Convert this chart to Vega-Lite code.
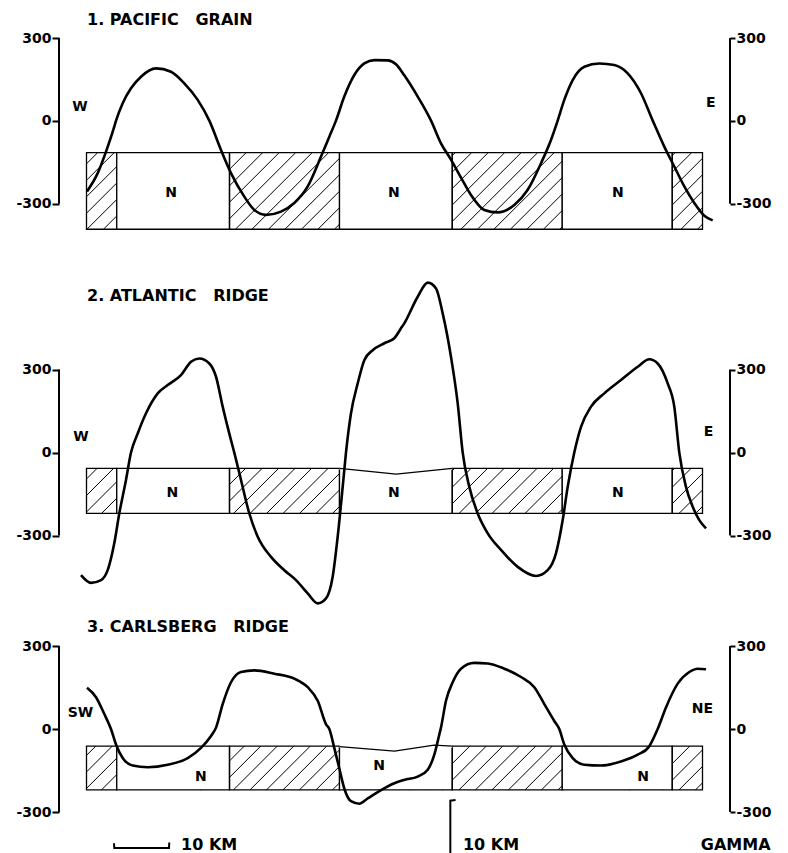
{
 "$schema": "https://vega.github.io/schema/vega-lite/v6.json",
 "background": "white",
 "padding": {"top": 12, "left": 15, "right": 5, "bottom": 0},
 "spacing": 44,
 "bounds": "flush",
 "config": {"view": {"stroke": null}},
 "datasets": {
  "spine": [{"x": 0, "y": -300, "y2": 300}, {"x": 122, "y": -300, "y2": 300}],
  "blocks": [
   {"p":1,"x":5,"x2":10.5,"y":-115,"y2":-392,"kind":"H","notch":false},
   {"p":1,"x":10.5,"x2":31,"y":-115,"y2":-392,"kind":"N","notch":false},
   {"p":1,"x":31,"x2":51,"y":-115,"y2":-392,"kind":"H","notch":false},
   {"p":1,"x":51,"x2":71.5,"y":-115,"y2":-392,"kind":"N","notch":false},
   {"p":1,"x":71.5,"x2":91.5,"y":-115,"y2":-392,"kind":"H","notch":false},
   {"p":1,"x":91.5,"x2":111.5,"y":-115,"y2":-392,"kind":"N","notch":false},
   {"p":1,"x":111.5,"x2":117,"y":-115,"y2":-392,"kind":"H","notch":false},
   {"p":2,"x":5,"x2":10.5,"y":-57,"y2":-220,"kind":"H","notch":false},
   {"p":2,"x":10.5,"x2":31,"y":-57,"y2":-220,"kind":"N","notch":false},
   {"p":2,"x":31,"x2":51,"y":-57,"y2":-220,"kind":"H","notch":false},
   {"p":2,"x":51,"x2":71.5,"y":-57,"y2":-220,"kind":"N","notch":true},
   {"p":2,"x":71.5,"x2":91.5,"y":-57,"y2":-220,"kind":"H","notch":false},
   {"p":2,"x":91.5,"x2":111.5,"y":-57,"y2":-220,"kind":"N","notch":false},
   {"p":2,"x":111.5,"x2":117,"y":-57,"y2":-220,"kind":"H","notch":false},
   {"p":3,"x":5,"x2":10.5,"y":-62,"y2":-220,"kind":"H","notch":false},
   {"p":3,"x":10.5,"x2":31,"y":-62,"y2":-220,"kind":"N","notch":false},
   {"p":3,"x":31,"x2":51,"y":-62,"y2":-220,"kind":"H","notch":false},
   {"p":3,"x":51,"x2":71.5,"y":-62,"y2":-220,"kind":"N","notch":true},
   {"p":3,"x":71.5,"x2":91.5,"y":-62,"y2":-220,"kind":"H","notch":false},
   {"p":3,"x":91.5,"x2":111.5,"y":-62,"y2":-220,"kind":"N","notch":false},
   {"p":3,"x":111.5,"x2":117,"y":-62,"y2":-220,"kind":"H","notch":false}
  ],
  "notch": [
   {"p":2,"x":51,"y":-57},{"p":2,"x":61.3,"y":-78},{"p":2,"x":71.5,"y":-57},
   {"p":3,"x":51,"y":-64},{"p":3,"x":61,"y":-80},{"p":3,"x":68.2,"y":-58},{"p":3,"x":71.5,"y":-62}
  ],
  "hatch": [
   {"p":1,"x":5,"y":-155.1,"x2":7.02,"y2":-115},
   {"p":1,"x":5,"y":-214.7,"x2":10.02,"y2":-115},
   {"p":1,"x":5,"y":-274.3,"x2":13.02,"y2":-115},
   {"p":1,"x":5,"y":-334,"x2":16.02,"y2":-115},
   {"p":1,"x":5.08,"y":-392,"x2":19.02,"y2":-115},
   {"p":1,"x":8.08,"y":-392,"x2":22.02,"y2":-115},
   {"p":1,"x":17.08,"y":-392,"x2":31.02,"y2":-115},
   {"p":1,"x":20.08,"y":-392,"x2":34.02,"y2":-115},
   {"p":1,"x":23.08,"y":-392,"x2":37.02,"y2":-115},
   {"p":1,"x":26.08,"y":-392,"x2":40.02,"y2":-115},
   {"p":1,"x":29.08,"y":-392,"x2":43.02,"y2":-115},
   {"p":1,"x":32.08,"y":-392,"x2":46.02,"y2":-115},
   {"p":1,"x":35.08,"y":-392,"x2":49.02,"y2":-115},
   {"p":1,"x":38.08,"y":-392,"x2":52.02,"y2":-115},
   {"p":1,"x":41.08,"y":-392,"x2":55.02,"y2":-115},
   {"p":1,"x":44.08,"y":-392,"x2":58.02,"y2":-115},
   {"p":1,"x":47.08,"y":-392,"x2":61.02,"y2":-115},
   {"p":1,"x":50.08,"y":-392,"x2":64.02,"y2":-115},
   {"p":1,"x":58.08,"y":-392,"x2":72.02,"y2":-115},
   {"p":1,"x":61.08,"y":-392,"x2":75.02,"y2":-115},
   {"p":1,"x":64.08,"y":-392,"x2":78.02,"y2":-115},
   {"p":1,"x":67.08,"y":-392,"x2":81.02,"y2":-115},
   {"p":1,"x":70.08,"y":-392,"x2":84.02,"y2":-115},
   {"p":1,"x":73.08,"y":-392,"x2":87.02,"y2":-115},
   {"p":1,"x":76.08,"y":-392,"x2":90.02,"y2":-115},
   {"p":1,"x":79.08,"y":-392,"x2":93.02,"y2":-115},
   {"p":1,"x":82.08,"y":-392,"x2":96.02,"y2":-115},
   {"p":1,"x":85.08,"y":-392,"x2":99.02,"y2":-115},
   {"p":1,"x":88.08,"y":-392,"x2":102.02,"y2":-115},
   {"p":1,"x":91.08,"y":-392,"x2":105.02,"y2":-115},
   {"p":1,"x":98.08,"y":-392,"x2":112.02,"y2":-115},
   {"p":1,"x":101.08,"y":-392,"x2":115.02,"y2":-115},
   {"p":1,"x":104.08,"y":-392,"x2":117,"y2":-135.2},
   {"p":1,"x":107.08,"y":-392,"x2":117,"y2":-194.8},
   {"p":1,"x":110.08,"y":-392,"x2":117,"y2":-254.5},
   {"p":1,"x":113.08,"y":-392,"x2":117,"y2":-314.1},
   {"p":1,"x":116.08,"y":-392,"x2":117,"y2":-373.7},
   {"p":2,"x":5,"y":-95.4,"x2":6.93,"y2":-57},
   {"p":2,"x":5,"y":-155.1,"x2":9.93,"y2":-57},
   {"p":2,"x":5,"y":-214.7,"x2":12.93,"y2":-57},
   {"p":2,"x":7.73,"y":-220,"x2":15.93,"y2":-57},
   {"p":2,"x":25.73,"y":-220,"x2":33.93,"y2":-57},
   {"p":2,"x":28.73,"y":-220,"x2":36.93,"y2":-57},
   {"p":2,"x":31.73,"y":-220,"x2":39.93,"y2":-57},
   {"p":2,"x":34.73,"y":-220,"x2":42.93,"y2":-57},
   {"p":2,"x":37.73,"y":-220,"x2":45.93,"y2":-57},
   {"p":2,"x":40.73,"y":-220,"x2":48.93,"y2":-57},
   {"p":2,"x":43.73,"y":-220,"x2":51.93,"y2":-57},
   {"p":2,"x":46.73,"y":-220,"x2":54.93,"y2":-57},
   {"p":2,"x":49.73,"y":-220,"x2":57.93,"y2":-57},
   {"p":2,"x":63.73,"y":-220,"x2":71.93,"y2":-57},
   {"p":2,"x":66.73,"y":-220,"x2":74.93,"y2":-57},
   {"p":2,"x":69.73,"y":-220,"x2":77.93,"y2":-57},
   {"p":2,"x":72.73,"y":-220,"x2":80.93,"y2":-57},
   {"p":2,"x":75.73,"y":-220,"x2":83.93,"y2":-57},
   {"p":2,"x":78.73,"y":-220,"x2":86.93,"y2":-57},
   {"p":2,"x":81.73,"y":-220,"x2":89.93,"y2":-57},
   {"p":2,"x":84.73,"y":-220,"x2":92.93,"y2":-57},
   {"p":2,"x":87.73,"y":-220,"x2":95.93,"y2":-57},
   {"p":2,"x":90.73,"y":-220,"x2":98.93,"y2":-57},
   {"p":2,"x":103.73,"y":-220,"x2":111.93,"y2":-57},
   {"p":2,"x":106.73,"y":-220,"x2":114.93,"y2":-57},
   {"p":2,"x":109.73,"y":-220,"x2":117,"y2":-75.5},
   {"p":2,"x":112.73,"y":-220,"x2":117,"y2":-135.2},
   {"p":2,"x":115.73,"y":-220,"x2":117,"y2":-194.8},
   {"p":3,"x":5,"y":-95.4,"x2":6.68,"y2":-62},
   {"p":3,"x":5,"y":-155.1,"x2":9.68,"y2":-62},
   {"p":3,"x":5,"y":-214.7,"x2":12.68,"y2":-62},
   {"p":3,"x":7.73,"y":-220,"x2":15.68,"y2":-62},
   {"p":3,"x":25.73,"y":-220,"x2":33.68,"y2":-62},
   {"p":3,"x":28.73,"y":-220,"x2":36.68,"y2":-62},
   {"p":3,"x":31.73,"y":-220,"x2":39.68,"y2":-62},
   {"p":3,"x":34.73,"y":-220,"x2":42.68,"y2":-62},
   {"p":3,"x":37.73,"y":-220,"x2":45.68,"y2":-62},
   {"p":3,"x":40.73,"y":-220,"x2":48.68,"y2":-62},
   {"p":3,"x":43.73,"y":-220,"x2":51.68,"y2":-62},
   {"p":3,"x":46.73,"y":-220,"x2":54.68,"y2":-62},
   {"p":3,"x":49.73,"y":-220,"x2":57.68,"y2":-62},
   {"p":3,"x":63.73,"y":-220,"x2":71.68,"y2":-62},
   {"p":3,"x":66.73,"y":-220,"x2":74.68,"y2":-62},
   {"p":3,"x":69.73,"y":-220,"x2":77.68,"y2":-62},
   {"p":3,"x":72.73,"y":-220,"x2":80.68,"y2":-62},
   {"p":3,"x":75.73,"y":-220,"x2":83.68,"y2":-62},
   {"p":3,"x":78.73,"y":-220,"x2":86.68,"y2":-62},
   {"p":3,"x":81.73,"y":-220,"x2":89.68,"y2":-62},
   {"p":3,"x":84.73,"y":-220,"x2":92.68,"y2":-62},
   {"p":3,"x":87.73,"y":-220,"x2":95.68,"y2":-62},
   {"p":3,"x":90.73,"y":-220,"x2":98.68,"y2":-62},
   {"p":3,"x":103.73,"y":-220,"x2":111.68,"y2":-62},
   {"p":3,"x":106.73,"y":-220,"x2":114.68,"y2":-62},
   {"p":3,"x":109.73,"y":-220,"x2":117,"y2":-75.5},
   {"p":3,"x":112.73,"y":-220,"x2":117,"y2":-135.2},
   {"p":3,"x":115.73,"y":-220,"x2":117,"y2":-194.8}
  ],
  "curve": [
   {"p":1,"x":5.09,"y":-255},{"p":1,"x":7.04,"y":-189},{"p":1,"x":8.55,"y":-111},{"p":1,"x":10.05,"y":-21},{"p":1,"x":10.36,"y":0},{"p":1,"x":11.58,"y":64},{"p":1,"x":13.09,"y":118},{"p":1,"x":14.91,"y":160},{"p":1,"x":17.64,"y":190},{"p":1,"x":20.36,"y":178},{"p":1,"x":22.78,"y":136},{"p":1,"x":25.22,"y":76},{"p":1,"x":27.33,"y":1},{"p":1,"x":29.45,"y":-105},{"p":1,"x":31.27,"y":-189},{"p":1,"x":33.69,"y":-274},{"p":1,"x":35.51,"y":-322},{"p":1,"x":37.64,"y":-340},{"p":1,"x":40.36,"y":-328},{"p":1,"x":42.78,"y":-297},{"p":1,"x":45.22,"y":-237},{"p":1,"x":47.64,"y":-129},{"p":1,"x":49.15,"y":-57},{"p":1,"x":50.36,"y":1},{"p":1,"x":51.87,"y":88},{"p":1,"x":53.69,"y":166},{"p":1,"x":55.51,"y":208},{"p":1,"x":57.33,"y":220},{"p":1,"x":59.76,"y":219},{"p":1,"x":61.27,"y":205},{"p":1,"x":62.78,"y":165},{"p":1,"x":65.22,"y":88},{"p":1,"x":67.64,"y":1},{"p":1,"x":69.45,"y":-81},{"p":1,"x":71.27,"y":-140},{"p":1,"x":73.09,"y":-205},{"p":1,"x":74.91,"y":-268},{"p":1,"x":77.33,"y":-322},{"p":1,"x":79.76,"y":-331},{"p":1,"x":82.78,"y":-304},{"p":1,"x":85.22,"y":-249},{"p":1,"x":87.64,"y":-153},{"p":1,"x":89.45,"y":-69},{"p":1,"x":90.67,"y":1},{"p":1,"x":91.87,"y":76},{"p":1,"x":93.4,"y":148},{"p":1,"x":95.51,"y":196},{"p":1,"x":98.24,"y":208},{"p":1,"x":100.96,"y":202},{"p":1,"x":103.4,"y":172},{"p":1,"x":105.82,"y":100},{"p":1,"x":107.95,"y":1},{"p":1,"x":110.05,"y":-93},{"p":1,"x":111.87,"y":-165},{"p":1,"x":113.69,"y":-237},{"p":1,"x":115.51,"y":-297},{"p":1,"x":117.33,"y":-343},{"p":1,"x":118.85,"y":-360},
   {"p":2,"x":4.0,"y":-443},{"p":2,"x":5.82,"y":-471},{"p":2,"x":7.64,"y":-461},{"p":2,"x":8.85,"y":-425},{"p":2,"x":10.05,"y":-328},{"p":2,"x":10.96,"y":-220},{"p":2,"x":12.18,"y":-99},{"p":2,"x":13.09,"y":0},{"p":2,"x":14.31,"y":69},{"p":2,"x":15.82,"y":142},{"p":2,"x":17.95,"y":214},{"p":2,"x":19.76,"y":244},{"p":2,"x":22.18,"y":280},{"p":2,"x":24.0,"y":328},{"p":2,"x":25.51,"y":340},{"p":2,"x":27.33,"y":322},{"p":2,"x":28.55,"y":274},{"p":2,"x":29.76,"y":166},{"p":2,"x":31.27,"y":45},{"p":2,"x":31.87,"y":0},{"p":2,"x":33.09,"y":-99},{"p":2,"x":34.6,"y":-220},{"p":2,"x":36.13,"y":-304},{"p":2,"x":38.55,"y":-377},{"p":2,"x":40.96,"y":-425},{"p":2,"x":43.09,"y":-461},{"p":2,"x":45.22,"y":-509},{"p":2,"x":47.04,"y":-545},{"p":2,"x":48.55,"y":-527},{"p":2,"x":49.76,"y":-449},{"p":2,"x":50.67,"y":-304},{"p":2,"x":51.58,"y":-124},{"p":2,"x":52.18,"y":0},{"p":2,"x":53.09,"y":142},{"p":2,"x":54.31,"y":250},{"p":2,"x":55.51,"y":334},{"p":2,"x":57.04,"y":370},{"p":2,"x":59.15,"y":395},{"p":2,"x":60.96,"y":413},{"p":2,"x":62.18,"y":449},{"p":2,"x":62.78,"y":467},{"p":2,"x":65.22,"y":563},{"p":2,"x":67.04,"y":614},{"p":2,"x":68.55,"y":593},{"p":2,"x":69.76,"y":503},{"p":2,"x":71.27,"y":346},{"p":2,"x":72.49,"y":178},{"p":2,"x":73.4,"y":0},{"p":2,"x":74.6,"y":-124},{"p":2,"x":76.13,"y":-220},{"p":2,"x":77.95,"y":-292},{"p":2,"x":80.36,"y":-352},{"p":2,"x":83.4,"y":-413},{"p":2,"x":86.73,"y":-446},{"p":2,"x":88.85,"y":-425},{"p":2,"x":90.36,"y":-364},{"p":2,"x":91.58,"y":-244},{"p":2,"x":92.49,"y":-124},{"p":2,"x":93.69,"y":0},{"p":2,"x":94.91,"y":93},{"p":2,"x":96.73,"y":166},{"p":2,"x":99.15,"y":214},{"p":2,"x":102.18,"y":262},{"p":2,"x":105.22,"y":310},{"p":2,"x":107.33,"y":337},{"p":2,"x":108.85,"y":322},{"p":2,"x":110.67,"y":250},{"p":2,"x":111.87,"y":166},{"p":2,"x":112.78,"y":0},{"p":2,"x":114.0,"y":-124},{"p":2,"x":115.22,"y":-196},{"p":2,"x":116.42,"y":-244},{"p":2,"x":117.64,"y":-274},
   {"p":3,"x":5.09,"y":149},{"p":3,"x":6.73,"y":115},{"p":3,"x":8.24,"y":54},{"p":3,"x":9.45,"y":0},{"p":3,"x":10.36,"y":-56},{"p":3,"x":11.58,"y":-105},{"p":3,"x":13.4,"y":-132},{"p":3,"x":16.13,"y":-138},{"p":3,"x":19.76,"y":-129},{"p":3,"x":23.4,"y":-105},{"p":3,"x":25.82,"y":-68},{"p":3,"x":27.64,"y":-25},{"p":3,"x":28.55,"y":5},{"p":3,"x":29.76,"y":90},{"p":3,"x":31.27,"y":169},{"p":3,"x":33.09,"y":206},{"p":3,"x":35.51,"y":212},{"p":3,"x":39.15,"y":200},{"p":3,"x":42.78,"y":182},{"p":3,"x":45.22,"y":151},{"p":3,"x":47.04,"y":102},{"p":3,"x":48.55,"y":17},{"p":3,"x":49.15,"y":0},{"p":3,"x":50.05,"y":-68},{"p":3,"x":50.96,"y":-142},{"p":3,"x":51.87,"y":-215},{"p":3,"x":53.09,"y":-261},{"p":3,"x":54.6,"y":-270},{"p":3,"x":56.13,"y":-251},{"p":3,"x":58.55,"y":-221},{"p":3,"x":60.96,"y":-196},{"p":3,"x":62.78,"y":-184},{"p":3,"x":65.22,"y":-172},{"p":3,"x":67.04,"y":-147},{"p":3,"x":68.24,"y":-93},{"p":3,"x":69.15,"y":-20},{"p":3,"x":69.45,"y":5},{"p":3,"x":70.36,"y":102},{"p":3,"x":71.58,"y":169},{"p":3,"x":73.09,"y":218},{"p":3,"x":75.51,"y":239},{"p":3,"x":77.95,"y":237},{"p":3,"x":80.96,"y":218},{"p":3,"x":84.0,"y":188},{"p":3,"x":86.42,"y":151},{"p":3,"x":88.24,"y":90},{"p":3,"x":90.05,"y":29},{"p":3,"x":90.96,"y":0},{"p":3,"x":91.87,"y":-56},{"p":3,"x":93.4,"y":-105},{"p":3,"x":95.51,"y":-129},{"p":3,"x":98.55,"y":-132},{"p":3,"x":102.18,"y":-117},{"p":3,"x":105.22,"y":-93},{"p":3,"x":107.33,"y":-62},{"p":3,"x":108.85,"y":0},{"p":3,"x":110.36,"y":78},{"p":3,"x":112.49,"y":164},{"p":3,"x":114.6,"y":206},{"p":3,"x":116.13,"y":218},{"p":3,"x":117.64,"y":216}
  ],
  "labels": [
   {"p":1,"x":3.8,"y":51,"text":"W"},{"p":1,"x":118.5,"y":65,"text":"E"},
   {"p":1,"x":20.4,"y":-260,"text":"N"},{"p":1,"x":60.9,"y":-260,"text":"N"},{"p":1,"x":101.6,"y":-260,"text":"N"},
   {"p":2,"x":4.0,"y":56,"text":"W"},{"p":2,"x":118.1,"y":74,"text":"E"},
   {"p":2,"x":20.6,"y":-146,"text":"N"},{"p":2,"x":60.9,"y":-146,"text":"N"},{"p":2,"x":101.6,"y":-146,"text":"N"},
   {"p":3,"x":3.9,"y":58,"text":"SW"},{"p":3,"x":117,"y":73,"text":"NE"},
   {"p":3,"x":25.8,"y":-172,"text":"N"},{"p":3,"x":58.2,"y":-135,"text":"N"},{"p":3,"x":106.2,"y":-172,"text":"N"}
  ],
  "bars": [
   {"id":"h","o":1,"x":10,"y":-413},{"id":"h","o":2,"x":10.05,"y":-430},{"id":"h","o":3,"x":20,"y":-430},{"id":"h","o":4,"x":20.05,"y":-410},
   {"id":"v","o":1,"x":72.1,"y":-257},{"id":"v","o":2,"x":71.15,"y":-259},{"id":"v","o":3,"x":71.15,"y":-470}
  ],
  "barText": [
   {"x":22.2,"y":-437,"text":"10 KM"},{"x":73.45,"y":-437,"text":"10 KM"},{"x":116.7,"y":-437,"text":"GAMMA"}
  ]
 },
 "vconcat": [
  {
   "width": 671, "height": 199,
   "title": {"text": "1. PACIFIC\u00a0\u00a0\u00a0GRAIN", "anchor": "start", "frame": "group", "dx": 28, "offset": -10, "baseline": "alphabetic", "font": "DejaVu Sans", "fontSize": 16, "fontWeight": "bold", "color": "black"},
   "encoding": {
    "x": {"field": "x", "type": "quantitative", "scale": {"domain": [0, 122], "nice": false, "zero": false}, "axis": null},
    "y": {"field": "y", "type": "quantitative", "scale": {"domain": [-420, 300], "nice": false, "zero": false}, "axis": null}
   },
   "layer": [
    {"data": {"name": "hatch"}, "transform": [{"filter": "datum.p == 1"}], "mark": {"type": "rule", "stroke": "black", "strokeWidth": 1}, "encoding": {"x2": {"field": "x2"}, "y2": {"field": "y2"}}},
    {"data": {"name": "blocks"}, "transform": [{"filter": "datum.p == 1"}], "mark": {"type": "rect", "stroke": "black", "strokeWidth": 1.3}, "encoding": {"x2": {"field": "x2"}, "y2": {"field": "y2"}, "fill": {"field": "kind", "type": "nominal", "scale": {"domain": ["N", "H"], "range": ["#ffffff", "rgba(255,255,255,0)"]}, "legend": null}}},
    {"data": {"name": "spine"}, "mark": {"type": "rule", "stroke": "black", "strokeWidth": 2}, "encoding": {"y": {"field": "y", "type": "quantitative", "scale": {"domain": [-420, 300], "nice": false, "zero": false}, "axis": {"orient": "left", "values": [-300, 0, 300], "labelExpr": "'' + datum.value", "domain": false, "grid": false, "title": null, "tickSize": 7, "tickWidth": 2, "tickColor": "black", "labelFont": "DejaVu Sans", "labelFontWeight": "bold", "labelFontSize": 14, "labelColor": "black", "labelPadding": 1, "labelOverlap": false}}, "y2": {"field": "y2"}}},
    {"data": {"values": [{"v": 0}]}, "mark": {"type": "rule", "stroke": "black", "strokeWidth": 1.6}, "encoding": {"x": {"datum": 0, "type": "quantitative", "scale": {"domain": [0, 122], "nice": false, "zero": false}, "axis": null}, "x2": {"datum": 122}, "y": {"field": "v", "type": "quantitative", "scale": {"domain": [-420, 300], "nice": false, "zero": false}, "axis": {"orient": "right", "values": [-300, 0, 300], "labelExpr": "'' + datum.value", "domain": false, "grid": false, "title": null, "tickSize": 5, "tickWidth": 2, "tickColor": "black", "labelFont": "DejaVu Sans", "labelFontWeight": "bold", "labelFontSize": 14, "labelColor": "black", "labelPadding": 1, "labelOverlap": false}}}},
    {"data": {"name": "curve"}, "transform": [{"filter": "datum.p == 1"}], "mark": {"type": "line", "interpolate": "monotone", "stroke": "black", "strokeWidth": 2.6}},
    {"data": {"name": "labels"}, "transform": [{"filter": "datum.p == 1"}], "mark": {"type": "text", "font": "DejaVu Sans", "fontWeight": "bold", "fontSize": 14, "align": "center", "baseline": "middle", "fill": "black"}, "encoding": {"text": {"field": "text"}}}
   ],
   "resolve": {"axis": {"y": "independent"}}
  },
  {
   "width": 671, "height": 321,
   "title": {"text": "2. ATLANTIC\u00a0\u00a0\u00a0RIDGE", "anchor": "start", "frame": "group", "dx": 28, "offset": -40, "baseline": "alphabetic", "font": "DejaVu Sans", "fontSize": 16, "fontWeight": "bold", "color": "black"},
   "encoding": {
    "x": {"field": "x", "type": "quantitative", "scale": {"domain": [0, 122], "nice": false, "zero": false}, "axis": null},
    "y": {"field": "y", "type": "quantitative", "scale": {"domain": [-540, 620], "nice": false, "zero": false}, "axis": null}
   },
   "layer": [
    {"data": {"name": "hatch"}, "transform": [{"filter": "datum.p == 2"}], "mark": {"type": "rule", "stroke": "black", "strokeWidth": 1}, "encoding": {"x2": {"field": "x2"}, "y2": {"field": "y2"}}},
    {"data": {"name": "blocks"}, "transform": [{"filter": "datum.p == 2"}], "mark": {"type": "rect", "stroke": "black", "strokeWidth": 1.3}, "encoding": {"x2": {"field": "x2"}, "y2": {"field": "y2"}, "fill": {"field": "kind", "type": "nominal", "scale": {"domain": ["N", "H"], "range": ["#ffffff", "rgba(255,255,255,0)"]}, "legend": null}}},
    {"data": {"name": "blocks"}, "transform": [{"filter": "datum.p == 2 && datum.notch"}], "mark": {"type": "rule", "stroke": "white", "strokeWidth": 3}, "encoding": {"x2": {"field": "x2"}}},
    {"data": {"name": "notch"}, "transform": [{"filter": "datum.p == 2"}], "mark": {"type": "line", "stroke": "black", "strokeWidth": 1.3}},
    {"data": {"name": "spine"}, "mark": {"type": "rule", "stroke": "black", "strokeWidth": 2}, "encoding": {"y": {"field": "y", "type": "quantitative", "scale": {"domain": [-540, 620], "nice": false, "zero": false}, "axis": {"orient": "left", "values": [-300, 0, 300], "labelExpr": "'' + datum.value", "domain": false, "grid": false, "title": null, "tickSize": 7, "tickWidth": 2, "tickColor": "black", "labelFont": "DejaVu Sans", "labelFontWeight": "bold", "labelFontSize": 14, "labelColor": "black", "labelPadding": 1, "labelOverlap": false}}, "y2": {"field": "y2"}}},
    {"data": {"values": [{"v": 0}]}, "mark": {"type": "rule", "stroke": "black", "strokeWidth": 1.6}, "encoding": {"x": {"datum": 0, "type": "quantitative", "scale": {"domain": [0, 122], "nice": false, "zero": false}, "axis": null}, "x2": {"datum": 122}, "y": {"field": "v", "type": "quantitative", "scale": {"domain": [-540, 620], "nice": false, "zero": false}, "axis": {"orient": "right", "values": [-300, 0, 300], "labelExpr": "'' + datum.value", "domain": false, "grid": false, "title": null, "tickSize": 5, "tickWidth": 2, "tickColor": "black", "labelFont": "DejaVu Sans", "labelFontWeight": "bold", "labelFontSize": 14, "labelColor": "black", "labelPadding": 1, "labelOverlap": false}}}},
    {"data": {"name": "curve"}, "transform": [{"filter": "datum.p == 2"}], "mark": {"type": "line", "interpolate": "monotone", "stroke": "black", "strokeWidth": 2.6}},
    {"data": {"name": "labels"}, "transform": [{"filter": "datum.p == 2"}], "mark": {"type": "text", "font": "DejaVu Sans", "fontWeight": "bold", "fontSize": 14, "align": "center", "baseline": "middle", "fill": "black"}, "encoding": {"text": {"field": "text"}}}
   ],
   "resolve": {"axis": {"y": "independent"}}
  },
  {
   "width": 671, "height": 166,
   "title": {"text": "3. CARLSBERG\u00a0\u00a0\u00a0RIDGE", "anchor": "start", "frame": "group", "dx": 28, "offset": -9, "baseline": "alphabetic", "font": "DejaVu Sans", "fontSize": 16, "fontWeight": "bold", "color": "black"},
   "encoding": {
    "x": {"field": "x", "type": "quantitative", "scale": {"domain": [0, 122], "nice": false, "zero": false}, "axis": null},
    "y": {"field": "y", "type": "quantitative", "scale": {"domain": [-300, 300], "nice": false, "zero": false}, "axis": null}
   },
   "layer": [
    {"data": {"name": "hatch"}, "transform": [{"filter": "datum.p == 3"}], "mark": {"type": "rule", "stroke": "black", "strokeWidth": 1}, "encoding": {"x2": {"field": "x2"}, "y2": {"field": "y2"}}},
    {"data": {"name": "blocks"}, "transform": [{"filter": "datum.p == 3"}], "mark": {"type": "rect", "stroke": "black", "strokeWidth": 1.3}, "encoding": {"x2": {"field": "x2"}, "y2": {"field": "y2"}, "fill": {"field": "kind", "type": "nominal", "scale": {"domain": ["N", "H"], "range": ["#ffffff", "rgba(255,255,255,0)"]}, "legend": null}}},
    {"data": {"name": "blocks"}, "transform": [{"filter": "datum.p == 3 && datum.notch"}], "mark": {"type": "rule", "stroke": "white", "strokeWidth": 3}, "encoding": {"x2": {"field": "x2"}}},
    {"data": {"name": "notch"}, "transform": [{"filter": "datum.p == 3"}], "mark": {"type": "line", "stroke": "black", "strokeWidth": 1.3}},
    {"data": {"name": "spine"}, "mark": {"type": "rule", "stroke": "black", "strokeWidth": 2}, "encoding": {"y": {"field": "y", "type": "quantitative", "scale": {"domain": [-300, 300], "nice": false, "zero": false}, "axis": {"orient": "left", "values": [-300, 0, 300], "labelExpr": "'' + datum.value", "domain": false, "grid": false, "title": null, "tickSize": 7, "tickWidth": 2, "tickColor": "black", "labelFont": "DejaVu Sans", "labelFontWeight": "bold", "labelFontSize": 14, "labelColor": "black", "labelPadding": 1, "labelOverlap": false}}, "y2": {"field": "y2"}}},
    {"data": {"values": [{"v": 0}]}, "mark": {"type": "rule", "stroke": "black", "strokeWidth": 1.6}, "encoding": {"x": {"datum": 0, "type": "quantitative", "scale": {"domain": [0, 122], "nice": false, "zero": false}, "axis": null}, "x2": {"datum": 122}, "y": {"field": "v", "type": "quantitative", "scale": {"domain": [-300, 300], "nice": false, "zero": false}, "axis": {"orient": "right", "values": [-300, 0, 300], "labelExpr": "'' + datum.value", "domain": false, "grid": false, "title": null, "tickSize": 5, "tickWidth": 2, "tickColor": "black", "labelFont": "DejaVu Sans", "labelFontWeight": "bold", "labelFontSize": 14, "labelColor": "black", "labelPadding": 1, "labelOverlap": false}}}},
    {"data": {"name": "curve"}, "transform": [{"filter": "datum.p == 3"}], "mark": {"type": "line", "interpolate": "monotone", "stroke": "black", "strokeWidth": 2.6}},
    {"data": {"name": "labels"}, "transform": [{"filter": "datum.p == 3"}], "mark": {"type": "text", "font": "DejaVu Sans", "fontWeight": "bold", "fontSize": 14, "align": "center", "baseline": "middle", "fill": "black"}, "encoding": {"text": {"field": "text"}}},
    {"data": {"name": "bars"}, "mark": {"type": "line", "stroke": "black", "strokeWidth": 2}, "encoding": {"detail": {"field": "id"}, "order": {"field": "o"}}},
    {"data": {"name": "barText"}, "mark": {"type": "text", "font": "DejaVu Sans", "fontWeight": "bold", "fontSize": 16, "align": "left", "baseline": "alphabetic", "fill": "black"}, "encoding": {"text": {"field": "text"}}}
   ],
   "resolve": {"axis": {"y": "independent"}}
  }
 ]
}
